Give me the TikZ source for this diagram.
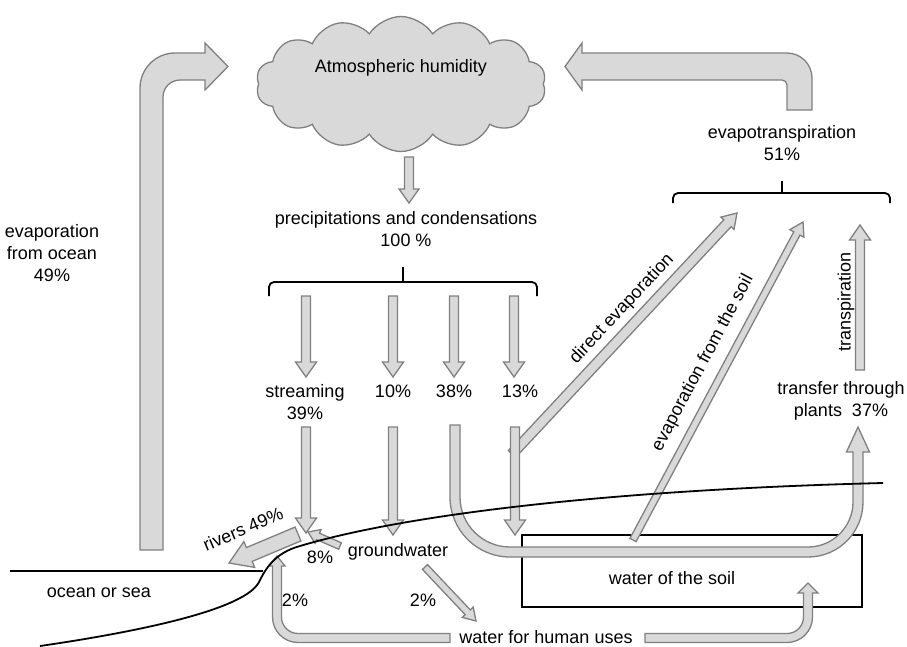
\documentclass[tikz,border=0pt]{standalone}
\usepackage{fontspec}
\setmainfont{Liberation Sans}
\usetikzlibrary{calc,shapes.symbols}
\definecolor{arrfill}{HTML}{D9D9D9}
\definecolor{arredge}{HTML}{808080}
\tikzset{
 blk/.style={draw=arredge, fill=arrfill, line width=1.3pt, line join=miter},
 lbl/.style={font=\fontsize{18}{22}\selectfont, inner sep=0pt, align=center, text=black},
 ground/.style={draw=black, line width=1.8pt},
 bracket/.style={draw=black, line width=1.8pt, rounded corners=5pt},
}
% #2 start, #3 tip, #4 half shaft width, #5 half head width, #6 head length
\newcommand\barrow[6][]{%
 \coordinate (bA) at #2;
 \coordinate (bB) at #3;
 \coordinate (bH) at ($(bB)!#6pt!(bA)$);
 \draw[blk,#1] ($(bA)!#4pt!90:(bB)$) -- ($(bH)!#4pt!90:(bB)$) -- ($(bH)!#5pt!90:(bB)$) -- (bB) -- ($(bH)!#5pt!-90:(bB)$) -- ($(bH)!#4pt!-90:(bB)$) -- ($(bA)!#4pt!-90:(bB)$) -- cycle;
}
\begin{document}
\begin{tikzpicture}[x=1pt,y=-1pt]
\useasboundingbox (0,0) rectangle (907,646);

% soil box
\draw[ground] (522,535) rectangle (862,607);
\node[lbl] (soil) at (672,578) {water of the soil};

% cloud
\node[cloud, cloud puffs=14, cloud puff arc=115, aspect=2.2, draw=arredge, fill=arrfill, line width=1.3pt, minimum width=290pt, minimum height=135pt] (cloud) at (401,84) {};
\node[lbl] (atm) at (401,68) {Atmospheric humidity};

% big left arrow (evaporation from ocean)
\draw[blk] (140,550) -- (140,88) .. controls (140,68.7) and (155.7,53) .. (175,53) -- (205,53) -- (205,43) -- (228,66.5) -- (205,90) -- (205,80) -- (180,80) .. controls (170.6,80) and (163,87.6) .. (163,97) -- (163,550) -- cycle;
\node[lbl] (evocean) at (52,253) {evaporation\\from ocean\\49\%};

% big right arrow (evapotranspiration)
\draw[blk] (812,110) -- (812,78) .. controls (812,64.2) and (800.8,53) .. (787,53) -- (582,53) -- (582,43) -- (565,66.5) -- (582,90) -- (582,80) -- (782,80) .. controls (784.8,80) and (787,82.2) .. (787,85) -- (787,110) -- cycle;
\node[lbl] (evapot) at (782,143) {evapotranspiration\\51\%};
\draw[bracket] (673,203) -- (673,193) -- (890,193) -- (890,203);
\draw[ground] (782,193) -- (782,181);

% precipitation
\barrow{(409,157)}{(409,203)}{4.5}{10}{14}
\node[lbl] (prec) at (406,229) {precipitations and condensations\\100 \%};
\draw[bracket] (269,296) -- (269,282) -- (537,282) -- (537,296);
\draw[ground] (403,282) -- (403,267);

\foreach \xx in {306,393,454,514}{\barrow{(\xx,296)}{(\xx,377)}{4.5}{10.5}{15}}

\node[lbl] (stream) at (305,402) {streaming\\39\%};
\node[lbl] (p10) at (393,391) {10\%};
\node[lbl] (p38) at (454,391) {38\%};
\node[lbl] (p13) at (520,391) {13\%};

% lower arrows
\barrow{(306,427)}{(306,533)}{4.5}{10.5}{15}
\barrow{(393,427)}{(393,535)}{4.5}{10.5}{15}
% direct evaporation
\barrow{(512,454)}{(737,213)}{5}{9}{14}
\node[lbl, rotate=47] (direct) at (622,309) {direct evaporation};
\barrow{(515,427)}{(515,535)}{4.5}{10.5}{15}

% 38% U arrow to plants
\draw[blk] (450,425) -- (450,497) .. controls (450,530.1) and (476.9,557) .. (510,557) -- (808,557) .. controls (838.4,557) and (863,532.4) .. (863,502) -- (863,452) -- (869.5,452) -- (858,427) -- (846.5,452) -- (853,452) -- (853,502) .. controls (853,526.8) and (832.8,547) .. (808,547) -- (510,547) .. controls (482.4,547) and (460,524.6) .. (460,497) -- (460,425) -- cycle;
\node[lbl] (transfer) at (841,401) {transfer through\\plants\ \ 37\%};

% evaporation from the soil
\barrow{(633,540)}{(803,222)}{3.5}{8}{13}
\node[lbl, rotate=62] (evsoil) at (703,363) {evaporation from the soil};

% transpiration
\barrow{(860,370)}{(860,225)}{4.5}{10.5}{15}
\node[lbl, rotate=90] (transp) at (846,302) {transpiration};

% rivers
\barrow{(298,534)}{(229,563)}{7.5}{14}{22}
\node[lbl, rotate=23] (rivers) at (243,529) {rivers 49\%};
% 8%
\barrow{(340,546)}{(308,532)}{3.5}{7.5}{11}
\node[lbl] (p8) at (320,557) {8\%};
\node[lbl] (gw) at (398,552) {groundwater};

% groundwater to human uses
\barrow{(425,567)}{(476,621)}{3.5}{7.5}{12}
\node[lbl] (p2b) at (423,600) {2\%};
\node[lbl] (p2a) at (295,600) {2\%};
\node[lbl] (human) at (546,637) {water for human uses};

% human uses to coast
\draw[blk] (450,633.5) -- (450,642.5) -- (298,642.5) .. controls (283.9,642.5) and (272.5,631.1) .. (272.5,617) -- (272.5,566) -- (269,566) -- (277,556) -- (285,566) -- (281.5,566) -- (281.5,617) .. controls (281.5,626.1) and (288.9,633.5) .. (298,633.5) -- cycle;
% human uses to soil
\draw[blk] (645,633.5) -- (645,642.5) -- (787,642.5) .. controls (801.1,642.5) and (812.5,631.1) .. (812.5,617) -- (812.5,593) -- (818,593) -- (808,583) -- (798,593) -- (803.5,593) -- (803.5,617) .. controls (803.5,626.1) and (796.1,633.5) .. (787,633.5) -- (645,633.5) -- cycle;

% ground lines
\draw[ground] (10,571) -- (263,571);
\draw[ground] (40,646) .. controls (150,630) and (246,608) .. (259,582) .. controls (265,570) and (274,553) .. (300,546) .. controls (400,516) and (600,490) .. (883,483);
\node[lbl] (ocean) at (99,593) {ocean or sea};
\end{tikzpicture}
\end{document}
